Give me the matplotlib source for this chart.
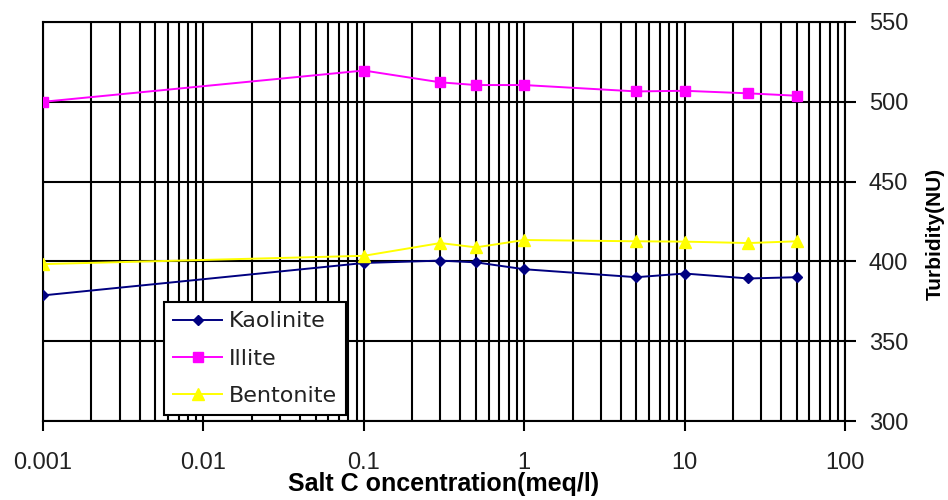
import matplotlib
matplotlib.use("Agg")
import matplotlib.pyplot as plt
import numpy as np
from matplotlib.ticker import LogLocator, FixedLocator, FixedFormatter, NullFormatter

plt.rcParams['font.family'] = ['Liberation Sans', 'DejaVu Sans']

# data
conc = [0.001, 0.1, 0.3, 0.5, 1, 5, 10, 25, 50]
kaolinite = [378.7, 399.0, 400.5, 399.4, 395.1, 390.1, 392.4, 389.3, 390.1]
illite = [500.0, 519.6, 512.2, 510.5, 510.5, 506.5, 506.9, 505.3, 503.8]
bentonite = [398.3, 403.5, 411.5, 408.8, 413.4, 412.6, 412.4, 411.5, 412.6]

xticks = [0.001, 0.01, 0.1, 1, 10, 100]
xticklabels = ['0.001', '0.01', '0.1', '1', '10', '100']
yticks = [300, 350, 400, 450, 500, 550]

fig = plt.figure(figsize=(9.48, 5.0), dpi=100)
ax = fig.add_axes([0.0454, 0.158, 0.846, 0.798])

ax.plot(conc, kaolinite, color='#000080', marker='D', markersize=5.5, lw=1.4, label='Kaolinite', zorder=3)
ax.plot(conc, illite, color='#ff00ff', marker='s', markersize=7, lw=1.4, label='Illite', zorder=3)
ax.plot(conc, bentonite, color='#ffff00', marker='^', markersize=8, lw=1.4, label='Bentonite', zorder=3)

ax.set_xscale('log')
ax.set_xlim(0.001, 100)
ax.set_ylim(300, 550)

ax.xaxis.set_major_locator(FixedLocator(xticks))
ax.xaxis.set_major_formatter(FixedFormatter(xticklabels))
ax.xaxis.set_minor_locator(LogLocator(base=10, subs=np.arange(2, 10)))
ax.xaxis.set_minor_formatter(NullFormatter())
ax.set_yticks(yticks)

ax.yaxis.tick_right()
ax.yaxis.set_label_position('right')
ax.tick_params(axis='y', which='major', direction='out', length=8, width=1.5, pad=9, labelsize=17, color='black')
ax.tick_params(axis='x', which='major', direction='out', length=7, width=1.5, pad=15, labelsize=17)
ax.tick_params(axis='x', which='minor', length=0)
for lab in ax.get_xticklabels() + ax.get_yticklabels():
    lab.set_color('#222222')

ax.grid(True, which='major', axis='both', color='black', lw=1.5)
ax.grid(True, which='minor', axis='x', color='black', lw=1.5)
for s in ax.spines.values():
    s.set_color('black')
    s.set_linewidth(1.5)

ax.set_xlabel('Salt C oncentration(meq/l)', fontsize=18, fontweight='bold', labelpad=-1)
ax.set_ylabel('Turbidity(NU)', fontsize=15, fontweight='bold')
ax.yaxis.set_label_coords(1.101, 0.47)

leg = ax.legend(loc='upper left', bbox_to_anchor=(0.151, 0.298), borderaxespad=0,
                prop={'family': 'DejaVu Sans', 'size': 16},
                frameon=True, fancybox=False, edgecolor='black', framealpha=1,
                handlelength=2.2, handletextpad=0.3, borderpad=0.42, labelspacing=0.77)
leg.get_frame().set_linewidth(1.5)
for t in leg.get_texts():
    t.set_color('#222222')

fig.savefig('out.png', dpi=100)
